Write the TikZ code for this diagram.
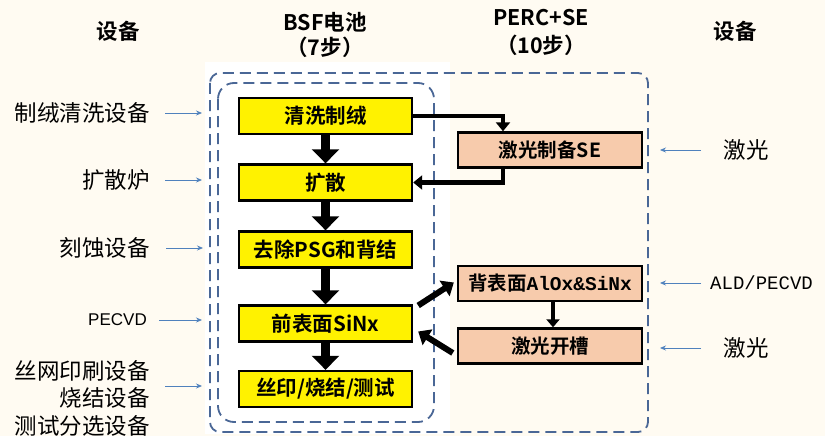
\documentclass[tikz,border=0pt]{standalone}
\usepackage{fontspec}
\setmainfont{Liberation Sans}
\newfontfamily\cjk{Noto Sans CJK SC}
\newfontfamily\cjkb{Noto Sans CJK SC Bold}
\newfontfamily\monof{Liberation Mono}
\newfontfamily\monob{Liberation Mono Bold}
\usetikzlibrary{arrows.meta}
\definecolor{bgc}{HTML}{FFFBF2}
\definecolor{dashc}{HTML}{4A6796}
\definecolor{arrc}{HTML}{4F81BD}
\definecolor{pinkc}{HTML}{F7CBAC}
\begin{document}
\begin{tikzpicture}[x=1pt,y=-1pt,
  ybox/.style={draw=black,line width=2.4pt,fill=yellow,minimum width=173pt,minimum height=36pt,inner sep=0pt,font=\cjkb\fontsize{20.5}{22}\selectfont},
  pbox/.style={draw=black,line width=2.4pt,fill=pinkc,minimum width=184pt,minimum height=35pt,inner sep=0pt,font=\cjkb\fontsize{19.5}{21}\selectfont},
  fat/.style={line width=9.5pt,-{Triangle[length=14pt,width=27pt]}},
  loopa/.style={line width=4.5pt,-{Triangle[length=9pt,width=14pt]}},
  diag/.style={line width=6pt,-{Triangle[length=11pt,width=18pt]}},
  slim/.style={line width=4pt,-{Triangle[length=8pt,width=13pt]}},
  blu/.style={draw=arrc,line width=0.8pt,-{Stealth[length=6pt,width=5pt]}},
  lab/.style={font=\cjk\fontsize{22.5}{27.5}\selectfont,inner sep=0pt},
  hdr/.style={font=\cjkb\fontsize{21.5}{24}\selectfont,inner sep=0pt,align=center},
  dsh/.style={draw=dashc,line width=1.8pt,dash pattern=on 11pt off 6pt}]
\fill[bgc] (0,0) rectangle (825,436);
\useasboundingbox (0,0) rectangle (825,436);
\fill[white] (205,62) rectangle (450,434);
\draw[dsh,rounded corners=10pt] (210,73) rectangle (648,432);
\draw[dsh,rounded corners=16pt] (218,83) rectangle (434,422);
% headers
\node[hdr] (h1) at (118,31) {设备};
\node[hdr] (h2) at (325,22) {BSF电池};
\node[hdr] (h3) at (325,47) {（7步）};
\node[hdr] (h4) at (541,18) {PERC+SE};
\node[hdr] (h5) at (541,45) {（10步）};
\node[hdr] (h6) at (735,31) {设备};
% yellow boxes
\node[ybox] (y1) at (325.5,116) {清洗制绒};
\node[ybox] (y2) at (325.5,182.5) {扩散};
\node[ybox] (y3) at (325.5,249.5) {去除PSG和背结};
\node[ybox] (y4) at (325.5,323.5) {前表面SiNx};
\node[ybox] (y5) at (325.5,389) {丝印/烧结/测试};
% pink boxes
\node[pbox] (p1) at (550,150) {激光制备SE};
\node[pbox] (p2) at (550,283.5) {背表面{\monob AlOx\&SiNx}};
\node[pbox] (p3) at (550,346) {激光开槽};
% arrows
\draw[fat] (y1) -- (y2);
\draw[fat] (y2) -- (y3);
\draw[fat] (y3) -- (y4);
\draw[fat] (y4) -- (y5);
\draw[loopa] (y1.east) -| ([xshift=-47pt]p1.north);
\draw[loopa] ([xshift=-47pt]p1.south) |- (y2.east);
\draw[diag] ([xshift=5pt,yshift=18pt]y4.east) -- ([xshift=-3pt,yshift=1pt]p2.west);
\draw[diag] ([xshift=-4pt,yshift=-7pt]p3.west) -- ([xshift=5pt,yshift=-8pt]y4.east);
\draw[slim] ([xshift=3pt]p2.south) -- ([xshift=3pt]p3.north);
% left labels
\node[lab,anchor=east] (l1) at (150,113) {制绒清洗设备};
\node[lab,anchor=east] (l2) at (150,180) {扩散炉};
\node[lab,anchor=east] (l3) at (150,248) {刻蚀设备};
\node[anchor=east,inner sep=0pt,font=\fontsize{17}{19}\selectfont] (l4) at (147,320) {PECVD};
\node[lab,anchor=east,align=right] (l5) at (150,398) {丝网印刷设备\\烧结设备\\测试分选设备};
\coordinate (t1) at (202,113);
\coordinate (t2) at (202,180);
\coordinate (t3) at (203,248);
\coordinate (t4) at (202,320);
\coordinate (t5) at (202,386);
\draw[blu] ([xshift=15pt]l1.east) -- (t1);
\draw[blu] ([xshift=15pt]l2.east) -- (t2);
\draw[blu] ([xshift=16pt]l3.east) -- (t3);
\draw[blu] ([xshift=12pt]l4.east) -- (t4);
\draw[blu] (165,386) -- (t5);
% right labels
\node[lab] (r1) at (746,150) {激光};
\node[anchor=west,inner sep=0pt,font=\monof\fontsize{19}{21}\selectfont] (r2) at (710,283) {ALD/PECVD};
\node[lab] (r3) at (746,348) {激光};
\coordinate (s1) at (660,150);
\coordinate (s2) at (660,283);
\coordinate (s3) at (660,348);
\draw[blu] (701,150) -- (s1);
\draw[blu] (701,283) -- (s2);
\draw[blu] (701,348) -- (s3);
\end{tikzpicture}
\end{document}
